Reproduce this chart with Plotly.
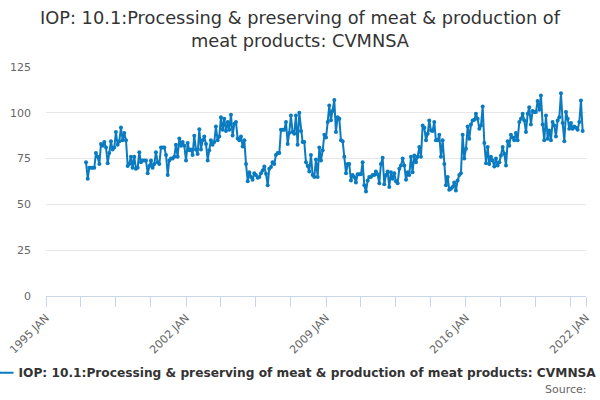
import pandas as pd
import plotly.graph_objects as go

# monthly index values, one row per year, starting January 1997
start_month = "1997-01-01"
values_1997_2001 = [
    73, 64, 70, 70, 70, 70, 78, 76, 72, 83, 82, 84,
    81, 72.5, 78, 84.5, 80, 81, 89.5, 82.5, 84.5, 92, 85, 89,
    85, 71, 72, 76, 70, 76, 69.5, 70, 78.5, 73, 74, 74,
    74, 67, 71, 74, 70, 72, 78.5, 73, 72, 81, 81, 81,
    77, 66, 74, 75, 75, 76, 82.5, 76, 86, 82, 84, 82,
]
values_2002_2006 = [
    74, 83.5, 79.5, 80, 77, 87.5, 80, 77.5, 91, 80, 85, 87,
    83, 74, 79.5, 85, 82.5, 84, 92.5, 85, 87, 97.6, 90.7, 96.7,
    90, 95, 90.7, 99, 87.6, 94, 95, 86, 85, 87, 81.6, 85,
    72, 62.7, 67.6, 65, 63.5, 67, 66, 64.5, 65, 67, 68.5, 70.7,
    66.7, 60.4, 69.5, 70.4, 73, 72, 77, 78, 78, 90.7, 90.7, 90.7,
]
values_2007_2011 = [
    95, 83, 89, 98.5, 89.5, 88.5, 98.5, 82.5, 100, 90, 84, 84,
    73, 71, 68, 77, 66, 65, 74.5, 65, 81, 74, 79.5, 88,
    86.5, 95, 104, 96, 101, 107, 89.5, 97.6, 96.7, 85, 84.5, 76,
    67, 72, 72, 63, 66, 65, 62, 66.4, 66.4, 66.4, 73, 60.4,
    57, 63, 65, 65, 66, 66, 68, 66.4, 61.6, 72, 75.5, 61,
]
values_2012_2016 = [
    66, 68, 59.5, 67.6, 64, 67, 62.7, 61.6, 69.5, 71.3, 75, 71.3,
    63.5, 67.6, 66, 76, 67.6, 76.7, 73, 76, 81.3, 76, 93, 91.8,
    85, 88.5, 95.8, 90.4, 90, 95, 85, 85, 88, 76, 85, 72,
    60.4, 65, 58, 58.5, 59.5, 62, 57.6, 63, 66, 67, 88, 75,
    80.4, 92.5, 85.8, 93.6, 95.8, 96.2, 99.5, 96.7, 91.3, 93, 103.5, 83.5,
]
values_2017_2021 = [
    72.5, 81.3, 72, 76, 74, 70.7, 75, 71.3, 73, 76.7, 81.3, 77.6,
    71.3, 84.5, 82, 88, 86.5, 85, 89, 85, 95, 96.7, 99.5, 95.8,
    89.5, 99.5, 103, 93.6, 101, 100.4, 100.4, 106.4, 101.6, 109.5, 93.6, 85,
    98.5, 85.8, 90.4, 85, 95, 93, 87, 95.8, 97.6, 110.7, 94.4, 84.5,
    100.4, 96.7, 91.3, 94.4, 91.3, 92.5, 91.8, 90.7, 95, 106.7, 90,
]

values = values_1997_2001 + values_2002_2006 + values_2007_2011 + values_2012_2016 + values_2017_2021
dates = pd.date_range(start_month, periods=len(values), freq="MS")

# x ticks every 21 months, labelled every 7 years, plus the axis end
tick_dates = list(pd.date_range("1995-01-01", "2021-12-01", freq="21MS")) + [pd.Timestamp("2022-01-01")]
tick_labels = [d.strftime("%Y JAN") if d.month == 1 and (d.year - 1995) % 7 == 0 or d.year == 2022 else ""
               for d in tick_dates]

series_name = "IOP: 10.1:Processing & preserving of meat & production of meat products: CVMNSA"
blue = "#0b7bc1"

fig = go.Figure()
fig.add_trace(go.Scatter(
    x=dates, y=values, name=series_name, mode="lines+markers",
    line=dict(color=blue, width=2),
    marker=dict(color=blue, size=4),
))

fig.update_layout(
    width=600, height=400,
    paper_bgcolor="white", plot_bgcolor="white",
    font=dict(family="DejaVu Sans", color="#666666", size=11),
    title=dict(
        text="IOP: 10.1:Processing & preserving of meat & production of<br>meat products: CVMNSA",
        x=0.5, xanchor="center", y=0.94, yanchor="top",
        font=dict(size=17.8, color="#333333"),
    ),
    margin=dict(l=46, r=14, t=67, b=104, autoexpand=False),
    showlegend=True,
    legend=dict(
        orientation="h", x=-0.125, xanchor="left", y=-0.335, yanchor="middle",
        font=dict(size=12.2, color="#333333", weight="bold"),
        itemwidth=30,
    ),
    xaxis=dict(
        type="date", range=["1995-01-01", "2022-01-01"],
        tickvals=tick_dates, ticktext=tick_labels, tickangle=-45,
        ticks="outside", ticklen=10, tickcolor="#ccd6eb",
        showline=True, linecolor="#ccd6eb", showgrid=False, zeroline=False,
    ),
    yaxis=dict(
        range=[0, 125], tickvals=[0, 25, 50, 75, 100, 125],
        gridcolor="#e6e6e6", zeroline=False, showline=False,
        ticklabelstandoff=14,
    ),
    annotations=[dict(
        text="Source:", xref="paper", yref="paper", x=1.005, y=-0.41,
        xanchor="right", yanchor="middle", showarrow=False,
        font=dict(size=11, color="#666666"),
    )],
)

fig.write_html("out.html", config={"displayModeBar": False},
               post_script="document.body.style.margin='0';")
